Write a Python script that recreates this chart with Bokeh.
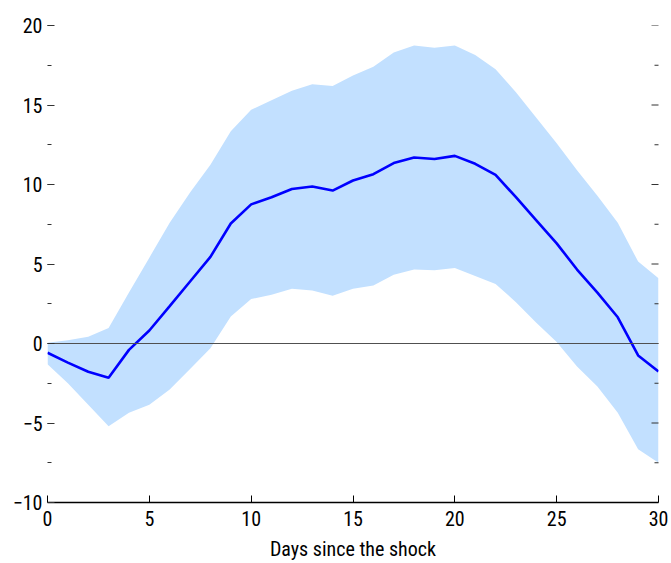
from bokeh.plotting import figure
from bokeh.models import LinearAxis, SingleIntervalTicker, Span, Range1d
from bokeh.embed import file_html
from bokeh.resources import INLINE

days = list(range(31))
response = [-0.58, -1.2, -1.78, -2.15, -0.4, 0.82, 2.35, 3.9, 5.45, 7.55, 8.75,
            9.2, 9.72, 9.87, 9.62, 10.25, 10.65, 11.35, 11.7, 11.6, 11.8,
            11.3, 10.6, 9.2, 7.75, 6.3, 4.65, 3.2, 1.65, -0.75, -1.76]
upper = [0.05, 0.2, 0.42, 0.98, 3.2, 5.4, 7.6, 9.5, 11.25, 13.35, 14.7,
         15.3, 15.9, 16.3, 16.2, 16.85, 17.4, 18.3, 18.75, 18.6, 18.75,
         18.15, 17.25, 15.8, 14.2, 12.6, 10.9, 9.3, 7.6, 5.15, 4.1]
lower = [-1.3, -2.5, -3.85, -5.2, -4.35, -3.85, -2.9, -1.6, -0.3, 1.7, 2.8,
         3.07, 3.45, 3.33, 3.0, 3.45, 3.64, 4.33, 4.65, 4.6, 4.75,
         4.25, 3.75, 2.6, 1.3, 0.1, -1.45, -2.7, -4.35, -6.65, -7.5]
y_major_ticks = [-10, -5, 0, 5, 10, 15, 20]
y_minor_ticks = [-7.5, -2.5, 2.5, 7.5, 12.5, 17.5]
x_label = "Days since the shock"

FONT = "'Liberation Sans Narrow', 'Arial Narrow', 'Roboto Condensed', sans-serif"

p = figure(width=671, height=563, output_backend="svg", toolbar_location=None,
           x_range=Range1d(0, 30), y_range=Range1d(-10, 20),
           y_axis_location=None, x_axis_location=None,
           min_border_left=47, min_border_right=13, min_border_top=25,
           min_border_bottom=60)
p.outline_line_color = None
p.grid.visible = False
p.background_fill_color = "white"
p.border_fill_color = "white"

p.varea(x=days, y1=lower, y2=upper, fill_color="#c2e0ff", fill_alpha=1.0)
zero = Span(location=0, dimension="width", line_color="#505050", line_width=1.2, level="glyph")
p.add_layout(zero)
p.line(days, response, line_color="#0000ff", line_width=2.6)

# right-edge inward ticks (dash markers centred on the frame edge, half clipped)
x_right = p.x_range.end
p.scatter(x=[x_right] * len(y_major_ticks), y=y_major_ticks, marker="dash",
          size=14, line_color="#333333", line_width=1)
p.scatter(x=[x_right] * len(y_minor_ticks), y=y_minor_ticks, marker="dash",
          size=8, line_color="#333333", line_width=1)

# bottom axis
xax = LinearAxis(ticker=SingleIntervalTicker(interval=5, num_minor_ticks=0))
xax.axis_label = x_label
xax.axis_line_color = "black"
xax.axis_line_width = 1.5
xax.major_tick_in = 7
xax.major_tick_out = 0
xax.major_tick_line_color = "black"
xax.minor_tick_line_color = None
xax.major_label_standoff = 8
xax.major_label_text_font = FONT
xax.major_label_text_font_size = "20px"
xax.major_label_text_color = "black"
xax.axis_label_text_font = FONT
xax.axis_label_text_font_size = "20px"
xax.axis_label_text_font_style = "normal"
xax.axis_label_text_color = "black"
xax.axis_label_standoff = 8
p.add_layout(xax, "below")

# left axis
yax = LinearAxis(ticker=SingleIntervalTicker(interval=5, num_minor_ticks=2))
yax.axis_line_color = None
yax.major_tick_in = 7
yax.major_tick_out = 0
yax.minor_tick_in = 4
yax.minor_tick_out = 0
yax.major_tick_line_color = "#333333"
yax.minor_tick_line_color = "#333333"
yax.major_label_standoff = 5
yax.major_label_text_font = FONT
yax.major_label_text_font_size = "20px"
yax.major_label_text_color = "black"
p.add_layout(yax, "left")

open("out.html", "w").write(file_html(p, INLINE))
